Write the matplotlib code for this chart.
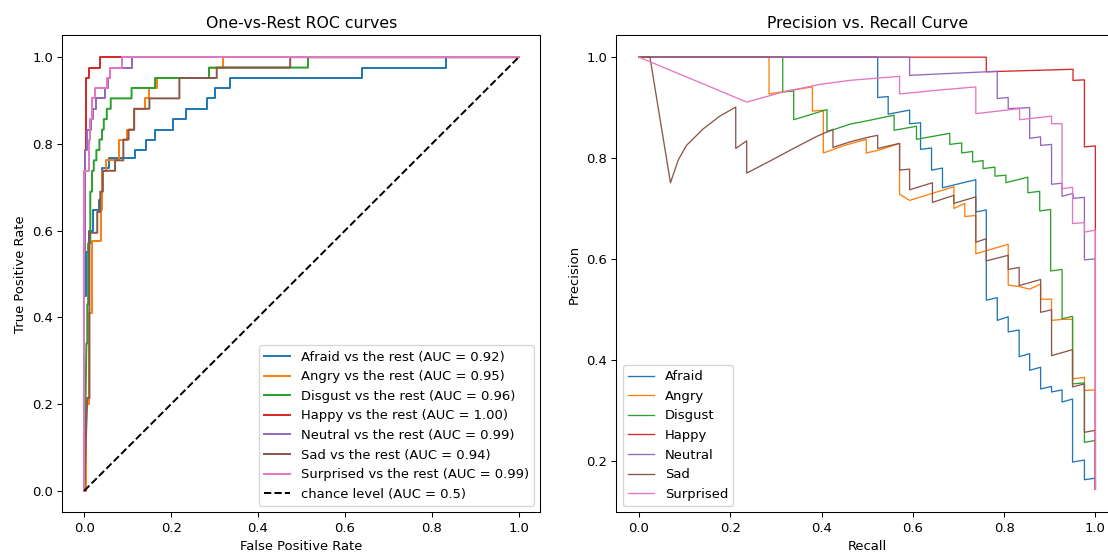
import matplotlib
matplotlib.use("Agg")
import matplotlib.pyplot as plt

classes = ["Afraid", "Angry", "Disgust", "Happy", "Neutral", "Sad", "Surprised"]
auc_values = [0.92, 0.95, 0.96, 1.00, 0.99, 0.94, 0.99]
colors = ["tab:blue", "tab:orange", "tab:green", "tab:red", "tab:purple", "tab:brown", "tab:pink"]

# ROC curve vertices (false positive rate, true positive rate) per class
roc_afraid = [(0, 0), (0, 0.45), (0.005, 0.45), (0.005, 0.55), (0.012, 0.55), (0.012, 0.60),
              (0.02, 0.60), (0.02, 0.648), (0.033, 0.648), (0.033, 0.671), (0.041, 0.671),
              (0.041, 0.745), (0.056, 0.745), (0.056, 0.768), (0.117, 0.768), (0.117, 0.786),
              (0.143, 0.786), (0.143, 0.81), (0.163, 0.81), (0.163, 0.833), (0.204, 0.833),
              (0.204, 0.857), (0.235, 0.857), (0.235, 0.881), (0.282, 0.881), (0.282, 0.905),
              (0.301, 0.905), (0.301, 0.929), (0.336, 0.929), (0.336, 0.952), (0.64, 0.952),
              (0.64, 0.976), (0.833, 0.976), (0.833, 1.0), (1.0, 1.0)]
roc_angry = [(0, 0), (0.005, 0), (0.005, 0.2), (0.012, 0.2), (0.012, 0.41), (0.018, 0.41),
             (0.018, 0.575), (0.038, 0.575), (0.038, 0.648), (0.041, 0.648), (0.041, 0.738),
             (0.05, 0.738), (0.05, 0.762), (0.081, 0.762), (0.081, 0.81), (0.098, 0.81),
             (0.098, 0.833), (0.115, 0.833), (0.115, 0.881), (0.139, 0.881), (0.139, 0.905),
             (0.148, 0.905), (0.148, 0.929), (0.167, 0.929), (0.167, 0.952), (0.287, 0.952),
             (0.287, 0.976), (0.32, 0.976), (0.32, 1.0), (1.0, 1.0)]
roc_disgust = [(0, 0), (0.005, 0.34), (0.007, 0.34), (0.007, 0.43), (0.009, 0.43), (0.009, 0.571),
               (0.014, 0.571), (0.014, 0.69), (0.018, 0.69), (0.018, 0.738), (0.022, 0.738),
               (0.022, 0.762), (0.028, 0.762), (0.028, 0.786), (0.035, 0.786), (0.035, 0.81),
               (0.041, 0.81), (0.041, 0.833), (0.045, 0.833), (0.045, 0.857), (0.052, 0.857),
               (0.052, 0.881), (0.061, 0.881), (0.061, 0.905), (0.109, 0.905), (0.109, 0.929),
               (0.163, 0.929), (0.163, 0.952), (0.287, 0.952), (0.287, 0.976), (0.515, 0.976),
               (0.515, 1.0), (1.0, 1.0)]
roc_happy = [(0, 0), (0, 0.6), (0.002, 0.6), (0.002, 0.786), (0.005, 0.786), (0.005, 0.952),
             (0.01, 0.952), (0.01, 0.976), (0.037, 0.976), (0.037, 1.0), (1.0, 1.0)]
roc_neutral = [(0, 0), (0, 0.55), (0.002, 0.55), (0.002, 0.786), (0.007, 0.786), (0.007, 0.833),
               (0.016, 0.833), (0.016, 0.857), (0.021, 0.857), (0.021, 0.881), (0.028, 0.881),
               (0.028, 0.905), (0.048, 0.905), (0.048, 0.929), (0.054, 0.929), (0.054, 0.952),
               (0.059, 0.952), (0.059, 0.976), (0.11, 0.976), (0.11, 1.0), (1.0, 1.0)]
roc_sad = [(0, 0), (0.007, 0.214), (0.012, 0.214), (0.012, 0.595), (0.03, 0.595), (0.03, 0.643),
           (0.037, 0.643), (0.037, 0.69), (0.043, 0.69), (0.043, 0.738), (0.071, 0.738),
           (0.071, 0.762), (0.09, 0.762), (0.09, 0.81), (0.102, 0.81), (0.102, 0.833),
           (0.115, 0.833), (0.115, 0.881), (0.15, 0.881), (0.15, 0.905), (0.219, 0.905),
           (0.219, 0.952), (0.305, 0.952), (0.305, 0.976), (0.474, 0.976), (0.474, 1.0), (1.0, 1.0)]
roc_surprised = [(0, 0), (0, 0.738), (0.01, 0.738), (0.01, 0.81), (0.014, 0.81), (0.014, 0.857),
                 (0.018, 0.857), (0.018, 0.905), (0.025, 0.905), (0.025, 0.929), (0.052, 0.929),
                 (0.052, 0.952), (0.06, 0.952), (0.06, 0.976), (0.087, 0.976), (0.087, 1.0),
                 (1.0, 1.0)]

# Precision-recall vertices (recall, precision) per class
pr_afraid = [(0, 1.0), (0.523, 1.0), (0.523, 0.92), (0.546, 0.922), (0.546, 0.887), (0.593, 0.895),
             (0.593, 0.868), (0.617, 0.87), (0.617, 0.817), (0.641, 0.82), (0.641, 0.776),
             (0.665, 0.78), (0.665, 0.741), (0.738, 0.757), (0.738, 0.693), (0.761, 0.697),
             (0.761, 0.518), (0.785, 0.523), (0.785, 0.478), (0.809, 0.485), (0.809, 0.455),
             (0.833, 0.459), (0.833, 0.406), (0.856, 0.412), (0.856, 0.379), (0.880, 0.385),
             (0.880, 0.342), (0.904, 0.347), (0.904, 0.336), (0.927, 0.34), (0.927, 0.316),
             (0.950, 0.322), (0.950, 0.197), (0.976, 0.201), (0.976, 0.162), (1.0, 0.165),
             (1.0, 0.143)]
pr_angry = [(0, 1.0), (0.285, 1.0), (0.285, 0.927), (0.380, 0.941), (0.380, 0.893), (0.404, 0.895),
            (0.404, 0.810), (0.45, 0.825), (0.498, 0.837), (0.498, 0.81), (0.523, 0.815),
            (0.571, 0.829), (0.571, 0.728), (0.593, 0.716), (0.690, 0.743), (0.690, 0.70),
            (0.714, 0.71), (0.714, 0.684), (0.738, 0.686), (0.738, 0.610), (0.809, 0.629),
            (0.809, 0.548), (0.833, 0.545), (0.856, 0.54), (0.880, 0.55), (0.880, 0.52),
            (0.904, 0.52), (0.904, 0.478), (0.927, 0.48), (0.95, 0.48), (0.95, 0.362),
            (0.976, 0.365), (0.976, 0.339), (1.0, 0.34), (1.0, 0.143)]
pr_disgust = [(0, 1.0), (0.315, 1.0), (0.315, 0.931), (0.339, 0.933), (0.339, 0.876), (0.412, 0.896),
              (0.412, 0.852), (0.462, 0.867), (0.506, 0.875), (0.559, 0.885), (0.559, 0.855),
              (0.608, 0.863), (0.608, 0.837), (0.681, 0.849), (0.681, 0.827), (0.707, 0.83),
              (0.707, 0.81), (0.731, 0.813), (0.731, 0.792), (0.754, 0.795), (0.754, 0.779),
              (0.780, 0.782), (0.780, 0.764), (0.804, 0.766), (0.804, 0.751), (0.852, 0.762),
              (0.852, 0.731), (0.878, 0.734), (0.878, 0.695), (0.902, 0.698), (0.902, 0.576),
              (0.927, 0.579), (0.927, 0.481), (0.95, 0.486), (0.95, 0.352), (0.976, 0.354),
              (0.976, 0.236), (1.0, 0.240), (1.0, 0.143)]
pr_happy = [(0, 1.0), (0.761, 1.0), (0.761, 0.971), (0.951, 0.976), (0.951, 0.954), (0.976, 0.955),
            (0.976, 0.822), (1.0, 0.824), (1.0, 0.143)]
pr_neutral = [(0, 1.0), (0.593, 1.0), (0.593, 0.964), (0.785, 0.972), (0.785, 0.918), (0.809, 0.92),
              (0.809, 0.898), (0.856, 0.90), (0.856, 0.839), (0.880, 0.842), (0.880, 0.825),
              (0.904, 0.827), (0.904, 0.748), (0.927, 0.75), (0.927, 0.724), (0.951, 0.73),
              (0.951, 0.72), (0.976, 0.722), (0.976, 0.598), (1.0, 0.60), (1.0, 0.143)]
pr_sad = [(0, 1.0), (0.024, 1.0), (0.069, 0.751), (0.086, 0.796), (0.104, 0.825), (0.141, 0.858),
          (0.177, 0.883), (0.212, 0.901), (0.212, 0.819), (0.236, 0.834), (0.236, 0.770),
          (0.287, 0.794), (0.345, 0.822), (0.39, 0.843), (0.425, 0.857), (0.425, 0.821),
          (0.462, 0.832), (0.506, 0.842), (0.523, 0.845), (0.523, 0.819), (0.571, 0.829),
          (0.571, 0.776), (0.593, 0.778), (0.593, 0.737), (0.643, 0.751), (0.643, 0.712),
          (0.690, 0.726), (0.690, 0.710), (0.738, 0.723), (0.738, 0.633), (0.761, 0.640),
          (0.761, 0.596), (0.809, 0.607), (0.809, 0.579), (0.833, 0.583), (0.833, 0.547),
          (0.880, 0.559), (0.880, 0.494), (0.904, 0.499), (0.904, 0.408), (0.95, 0.420),
          (0.95, 0.346), (0.976, 0.352), (0.976, 0.256), (1.0, 0.26), (1.0, 0.143)]
pr_surprised = [(0, 1.0), (0.236, 0.911), (0.316, 0.931), (0.396, 0.946), (0.462, 0.954),
                (0.571, 0.962), (0.571, 0.927), (0.66, 0.935), (0.738, 0.941), (0.738, 0.888),
                (0.834, 0.898), (0.834, 0.876), (0.904, 0.883), (0.904, 0.868), (0.927, 0.868),
                (0.927, 0.739), (0.95, 0.742), (0.95, 0.67), (0.976, 0.672), (0.976, 0.653),
                (1.0, 0.657), (1.0, 0.143)]

roc_curves = [roc_afraid, roc_angry, roc_disgust, roc_happy, roc_neutral, roc_sad, roc_surprised]
pr_curves = [pr_afraid, pr_angry, pr_disgust, pr_happy, pr_neutral, pr_sad, pr_surprised]

# Render at a slightly reduced dpi so fonts, ticks and lines scale together
DPI = 94.5
fig = plt.figure(figsize=(1108 / DPI, 552 / DPI), dpi=DPI)
ax_roc = fig.add_axes([0.0564, 0.0716, 0.4314, 0.8641])
ax_pr = fig.add_axes([0.5561, 0.0716, 0.4531, 0.8641])

for name, auc, color, pts in zip(classes, auc_values, colors, roc_curves):
    xs, ys = zip(*pts)
    ax_roc.plot(xs, ys, color=color, lw=1.5,
                label=f"{name} vs the rest (AUC = {auc:.2f})")
ax_roc.plot([0, 1], [0, 1], "k--", lw=1.5, label="chance level (AUC = 0.5)")
ax_roc.set_xlim(-0.05, 1.05)
ax_roc.set_ylim(-0.05, 1.05)
ax_roc.set_xlabel("False Positive Rate")
ax_roc.set_ylabel("True Positive Rate")
ax_roc.set_title("One-vs-Rest ROC curves")
ax_roc.legend(loc="lower right")

for name, color, pts in zip(classes, colors, pr_curves):
    xs, ys = zip(*pts)
    ax_pr.plot(xs, ys, color=color, lw=1, label=name)
ax_pr.set_xlim(-0.05, 1.05)
ax_pr.set_ylim(0.097, 1.043)
ax_pr.set_xlabel("Recall")
ax_pr.set_ylabel("Precision")
ax_pr.set_title("Precision vs. Recall Curve")
ax_pr.legend(loc="lower left")

fig.savefig("out.png", dpi=DPI)
